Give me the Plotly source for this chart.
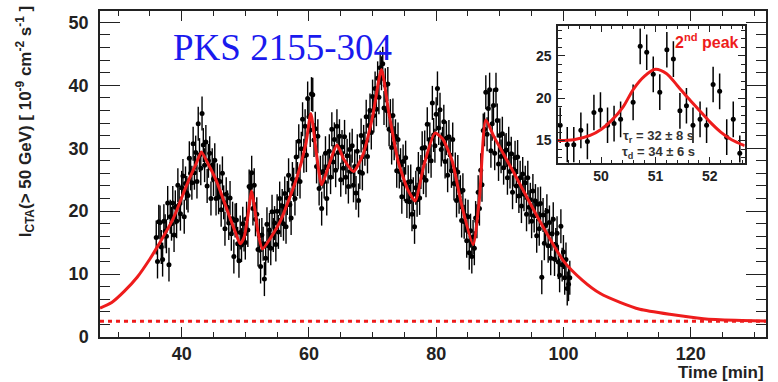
import numpy as np
import plotly.graph_objects as go

# ---------------- data ----------------
t_start, t_step = 36.0, 0.2
flux = [
    # 36.0 - 40.8
    15.8, 12.0, 18.3, 18.2, 14.3, 12.3, 18.4, 16.8, 16.0, 21.3, 11.5, 19.1, 18.0, 21.3, 16.2, 20.6, 18.4, 24.1, 21.0, 19.6, 23.7, 25.6, 19.1, 24.4, 22.9,
    # 41.0 - 45.8
    22.5, 28.4, 26.0, 24.5, 30.7, 26.1, 29.3, 24.7, 33.9, 28.9, 26.8, 35.5, 30.5, 27.3, 31.0, 24.0, 28.0, 29.2, 22.0, 27.3, 25.1, 28.1, 22.0, 24.9, 22.2,
    # 46.0 - 50.8
    24.7, 20.2, 26.0, 21.4, 17.2, 22.7, 20.6, 18.1, 22.1, 16.4, 18.8, 12.8, 18.5, 18.6, 14.8, 12.1, 16.6, 14.6, 18.0, 16.3, 15.0, 18.8, 17.0, 23.9, 23.7,
    # 51.0 - 55.8
    26.1, 20.4, 24.1, 18.7, 19.5, 13.9, 16.1, 11.2, 16.2, 14.8, 9.2, 12.5, 17.9, 14.5, 17.0, 14.1, 19.9, 16.2, 18.1, 14.7, 20.0, 16.7, 22.0, 18.6, 20.8,
    # 56.0 - 60.8
    18.0, 22.8, 17.5, 22.1, 25.7, 21.0, 18.9, 25.1, 24.2, 22.0, 28.6, 25.1, 31.1, 24.7, 29.9, 34.6, 28.8, 33.5, 28.9, 37.9, 35.0, 32.9, 38.6, 38.5, 31.3,
    # 61.0 - 65.8
    33.1, 27.1, 31.9, 23.6, 26.1, 20.4, 26.3, 24.7, 29.2, 22.0, 27.1, 29.5, 25.4, 33.0, 27.8, 31.4, 26.5, 33.5, 29.3, 31.9, 25.0, 30.2, 26.8, 31.8, 25.4,
    # 66.0 - 70.8
    28.8, 23.9, 29.8, 26.3, 30.4, 24.1, 27.1, 22.9, 29.5, 21.7, 26.2, 32.0, 26.0, 31.0, 29.9, 35.0, 28.7, 33.6, 36.0, 32.5, 38.2, 35.2, 39.5, 36.2, 41.1,
    # 71.0 - 75.8
    38.1, 42.8, 41.9, 43.4, 36.4, 40.0, 36.0, 40.2, 33.0, 35.1, 30.1, 35.2, 30.8, 31.9, 26.4, 31.4, 26.3, 27.3, 22.3, 27.9, 24.3, 28.5, 21.6, 24.6, 21.5,
    # 76.0 - 80.8
    24.7, 19.5, 22.7, 17.5, 23.7, 21.8, 26.7, 22.1, 26.2, 30.0, 25.4, 30.1, 24.9, 33.8, 28.7, 31.4, 28.0, 37.2, 32.1, 30.4, 35.4, 39.5, 33.2, 36.1, 29.8,
    # 81.0 - 85.8
    30.7, 34.2, 27.9, 31.6, 25.7, 31.8, 28.9, 26.4, 31.4, 24.4, 26.6, 21.7, 26.2, 22.3, 23.0, 18.5, 23.3, 18.3, 19.3, 15.3, 19.1, 13.4, 16.9, 12.8, 15.9,
    # 86.0 - 90.8
    14.1, 18.9, 18.4, 23.0, 20.4, 26.5, 24.2, 32.8, 33.0, 38.9, 32.2, 36.3, 39.3, 29.6, 33.9, 36.8, 29.2, 39.3, 34.4, 27.5, 32.0, 28.7, 32.3, 26.9, 29.5,
    # 91.0 - 95.8
    29.7, 25.3, 30.7, 26.3, 29.1, 23.0, 26.6, 28.5, 24.0, 28.6, 22.4, 25.3, 20.8, 25.9, 22.7, 24.5, 19.5, 25.3, 20.6, 21.8, 18.4, 23.2, 19.3, 21.6, 16.1,
    # 96.0 - 101.0
    21.1, 17.2, 21.2, 9.5, 19.4, 14.9, 17.8, 20.0, 14.5, 18.2, 12.5, 16.4, 18.7, 12.4, 14.6, 16.5, 11.9, 9.8, 17.6, 11.5, 13.5, 9.4, 12.3, 7.7, 8.4, 9.4,
]
time = np.round(t_start + t_step * np.arange(len(flux)), 2)
ERR = 2.7

fit_t = [27.16, 29.0, 31.0, 33.0, 35.0, 36.1, 38.7, 41.0, 42.3, 43.1, 44.0, 45.5, 47.6, 48.6, 49.2,
         49.8, 50.4, 51.0, 51.6, 52.0, 52.7, 54.0, 55.5, 58.1, 59.5, 60.3, 61.2, 62.0, 63.2, 64.4,
         65.5, 67.0, 68.5, 70.0, 71.4, 72.5, 74.0, 75.5, 76.7, 78.0, 79.8, 81.0, 82.5, 84.0, 85.8,
         86.8, 87.8, 89.0, 92.1, 96.3, 100.0, 103.0, 105.8, 108.9, 112.0, 116.7, 122.0, 127.0, 131.84]
fit_y = [4.6, 5.5, 7.3, 9.5, 12.4, 14.2, 18.9, 24.7, 27.6, 29.4, 27.8, 24.7, 18.9, 16.2, 14.8,
         15.8, 19.2, 23.2, 19.5, 16.6, 14.0, 15.8, 18.4, 25.3, 30.6, 35.5, 29.0, 24.2, 27.5, 30.5,
         28.2, 26.3, 29.0, 35.0, 42.5, 36.0, 28.0, 23.5, 21.6, 27.0, 32.4, 31.5, 28.0, 21.0, 14.7,
         22.0, 34.5, 32.0, 26.3, 18.4, 12.1, 9.0, 6.9, 5.5, 4.4, 3.6, 2.9, 2.65, 2.55]
BASELINE = 2.5

# inset: second peak
ins_t = [49.25, 49.38, 49.50, 49.63, 49.75, 49.87, 49.99, 50.12, 50.24, 50.36, 50.59, 50.72, 50.84, 50.96,
         51.08, 51.21, 51.33, 51.45, 51.57, 51.69, 51.82, 51.94, 52.06, 52.18, 52.31, 52.43, 52.55]
ins_y = [16.8, 14.5, 14.5, 16.2, 14.9, 18.3, 18.6, 16.8, 17.0, 17.5, 19.5, 26.1, 25.4, 22.8,
         20.7, 25.7, 24.6, 18.5, 19.1, 16.8, 17.5, 16.8, 21.6, 20.8, 15.4, 17.5, 13.5]
INS_ERR = 2.1
ins_fit_t = [49.21, 49.5, 49.8, 50.0, 50.2, 50.4, 50.6, 50.8, 51.0, 51.2, 51.4, 51.6, 51.8, 52.0, 52.2, 52.4, 52.64]
ins_fit_y = [15.0, 15.1, 15.6, 16.3, 17.4, 18.9, 21.1, 22.6, 23.4, 22.9, 21.5, 20.0, 18.6, 17.2, 16.0, 15.1, 14.4]

# ---------------- figure ----------------
RED = "#ee1c1c"
AX = "#222222"
fig = go.Figure()

fig.add_trace(go.Scatter(
    x=time, y=flux, mode="markers",
    marker=dict(color="black", size=5),
    error_y=dict(type="constant", value=ERR, color="black", thickness=1.4, width=0),
    xaxis="x", yaxis="y", showlegend=False))
fig.add_trace(go.Scatter(
    x=fit_t, y=fit_y, mode="lines",
    line=dict(color=RED, width=3, shape="spline", smoothing=0.6),
    xaxis="x", yaxis="y", showlegend=False))

fig.add_trace(go.Scatter(
    x=ins_t, y=ins_y, mode="markers",
    marker=dict(color="black", size=5),
    error_y=dict(type="constant", value=INS_ERR, color="black", thickness=1.5, width=0),
    xaxis="x2", yaxis="y2", showlegend=False))
fig.add_trace(go.Scatter(
    x=ins_fit_t, y=ins_fit_y, mode="lines",
    line=dict(color=RED, width=3, shape="spline", smoothing=0.8),
    xaxis="x2", yaxis="y2", showlegend=False))

fig.add_shape(type="line", xref="x domain", yref="y", x0=0, x1=1, y0=BASELINE, y1=BASELINE,
              line=dict(color=RED, width=3, dash="4px,4px"), layer="above")

tickfont = dict(family="Liberation Sans, Arial", size=18, color=AX, weight="bold")
fig.update_layout(
    width=778, height=382,
    margin=dict(l=100, r=12, t=9, b=45),
    paper_bgcolor="white", plot_bgcolor="white",
    xaxis=dict(range=[27.16, 131.84], dtick=20, tick0=0, ticks="inside", ticklen=10, tickwidth=1.2,
               tickcolor=AX, showline=True, linecolor=AX, linewidth=1.5, mirror="allticks",
               showgrid=False, zeroline=False, tickfont=tickfont,
               minor=dict(dtick=5, tick0=0, ticks="inside", ticklen=5, tickwidth=1.2, tickcolor=AX, showgrid=False)),
    yaxis=dict(range=[0, 51.8], dtick=10, tick0=0, ticks="inside", ticklen=20, tickwidth=1.2,
               tickcolor=AX, showline=True, linecolor=AX, linewidth=1.5, mirror="allticks",
               showgrid=False, zeroline=False, tickfont=tickfont, ticklabelstandoff=6,
               minor=dict(dtick=2, tick0=0, ticks="inside", ticklen=10, tickwidth=1.2, tickcolor=AX, showgrid=False)),
    xaxis2=dict(domain=[0.6877, 0.968], anchor="y2", range=[49.21, 52.64], dtick=1, tick0=0,
                ticks="inside", ticklen=6, tickwidth=1.2, tickcolor=AX, showline=True, linecolor=AX,
                linewidth=1.5, mirror="allticks", showgrid=False, zeroline=False,
                tickfont=dict(family="Liberation Sans, Arial", size=14, color=AX, weight="bold"),
                minor=dict(dtick=0.2, tick0=0, ticks="inside", ticklen=3, tickcolor=AX, showgrid=False)),
    yaxis2=dict(domain=[0.535, 0.954], anchor="x2", range=[12.4, 28.5], dtick=5, tick0=0,
                ticks="inside", ticklen=7, tickwidth=1.2, tickcolor=AX, showline=True, linecolor=AX,
                linewidth=1.5, mirror="allticks", showgrid=False, zeroline=False, ticklabelstandoff=2,
                tickfont=dict(family="Liberation Sans, Arial", size=14, color=AX, weight="bold"),
                minor=dict(dtick=1, tick0=0, ticks="inside", ticklen=4, tickcolor=AX, showgrid=False)),
)

ann_font = dict(family="Liberation Sans, Arial", color=AX, weight="bold")
fig.add_annotation(xref="paper", yref="paper", x=0.274, y=0.887, xanchor="center", yanchor="middle",
                   text="PKS 2155-304", showarrow=False,
                   font=dict(family="Liberation Serif, Times New Roman", size=37, color="#1a1aee"))
fig.add_annotation(xref="paper", yref="paper", x=-0.1126, y=0.6616, xanchor="center", yanchor="middle",
                   textangle=-90, showarrow=False,
                   text="I<sub>CTA</sub>(> 50 GeV) [ 10<sup>-9</sup> cm<sup>-2</sup> s<sup>-1</sup> ]",
                   font=dict(ann_font, size=17))
fig.add_annotation(xref="paper", yref="paper", x=1.0, y=-0.11, xanchor="right", yanchor="middle",
                   text="Time [min]", showarrow=False, font=dict(ann_font, size=17))
fig.add_annotation(xref="paper", yref="paper", x=0.911, y=0.9085, xanchor="center", yanchor="middle",
                   text="2<sup>nd</sup> peak", showarrow=False,
                   font=dict(family="Liberation Sans, Arial", size=16, color=RED, weight="bold"))
fig.add_annotation(xref="paper", yref="paper", x=0.838, y=0.615, xanchor="center", yanchor="middle",
                   text="τ<sub>r</sub> = 32 ± 8 s", showarrow=False, font=dict(ann_font, size=13, color="#333333"))
fig.add_annotation(xref="paper", yref="paper", x=0.838, y=0.565, xanchor="center", yanchor="middle",
                   text="τ<sub>d</sub> = 34 ± 6 s", showarrow=False, font=dict(ann_font, size=13, color="#333333"))

fig.write_html("out.html")
